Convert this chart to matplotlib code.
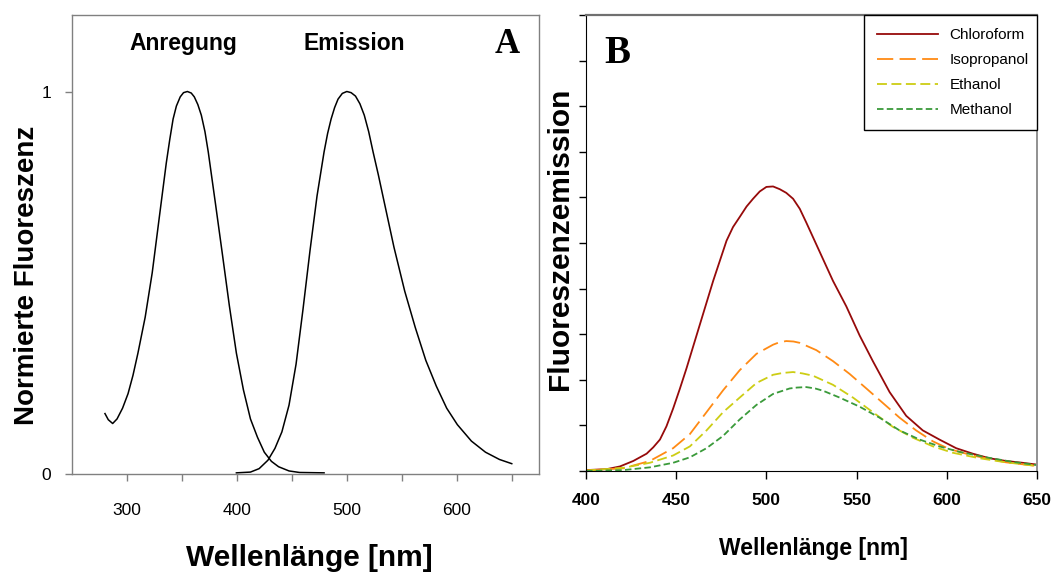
import matplotlib
matplotlib.use("Agg")
import matplotlib.pyplot as plt
from matplotlib import font_manager as fm

# ---------------- data ----------------
# Panel A: normalised excitation / emission spectra
exc_nm = [280, 283, 287, 291, 296, 301, 305.5, 310, 316.6, 323, 329.4, 335.8, 339, 342,
          345, 348.5, 351.5, 355, 358.5, 361.3, 364.5, 367.7, 371, 374, 377, 380.5, 386.9,
          393.2, 399.6, 406, 412.4, 418.8, 425, 431.5, 438, 447.5, 457, 479.4]
exc_val = [0.158, 0.142, 0.132, 0.144, 0.172, 0.21, 0.258, 0.316, 0.41, 0.526, 0.67, 0.813,
           0.875, 0.928, 0.962, 0.986, 0.997, 1.0, 0.996, 0.986, 0.966, 0.938, 0.895, 0.842,
           0.78, 0.708, 0.574, 0.44, 0.316, 0.22, 0.144, 0.096, 0.057, 0.033, 0.019, 0.008,
           0.004, 0.003]
em_nm = [399.6, 412.4, 420.3, 428.3, 434.7, 441, 447.5, 453.9, 460.2, 466.6, 473, 479.4,
         482.6, 485.8, 489, 492.1, 496, 500.1, 504, 508, 512, 516, 520, 524, 528.8, 533.6,
         543, 552.8, 562.4, 572, 581.5, 591, 600.7, 613.5, 626.3, 639, 650.2]
em_val = [0.003, 0.005, 0.014, 0.036, 0.067, 0.11, 0.18, 0.287, 0.43, 0.584, 0.727, 0.842,
          0.89, 0.928, 0.958, 0.98, 0.995, 1.0, 0.997, 0.988, 0.968, 0.938, 0.895, 0.842,
          0.782, 0.718, 0.593, 0.478, 0.383, 0.297, 0.23, 0.172, 0.129, 0.086, 0.057,
          0.038, 0.027]
a_xticks = [300, 400, 500, 600]
a_yticks = [0, 1]
a_labels = ["Anregung", "Emission"]

# Panel B: emission in different solvents
chl_nm = [400, 411.4, 418.8, 426.2, 433.6, 437.3, 441, 444.6, 448.3, 452, 455.7, 463.1,
          470.5, 477.9, 481.5, 485.2, 489, 492.6, 496.3, 500, 503.7, 507.4, 511, 514.8,
          518.5, 522.1, 529.5, 536.9, 544.3, 551.7, 559, 568.3, 577.5, 586.7, 595.9, 605.2,
          614.4, 623.6, 632.8, 642, 650]
chl_val = [0.02, 0.04, 0.1, 0.22, 0.38, 0.52, 0.69, 0.98, 1.37, 1.8, 2.25, 3.21, 4.17,
           5.05, 5.35, 5.57, 5.8, 5.97, 6.13, 6.23, 6.24, 6.18, 6.1, 5.97, 5.75, 5.45, 4.81,
           4.17, 3.61, 2.97, 2.41, 1.73, 1.21, 0.89, 0.69, 0.5, 0.38, 0.28, 0.22, 0.18,
           0.14]
iso_nm = [400, 420.7, 435.4, 448.3, 457.6, 466.8, 476, 485.2, 494.5, 503.7, 507, 511, 515,
          518.5, 527.7, 536.9, 546.1, 555.4, 564.6, 573.8, 583, 592.3, 601.5, 614.4, 632.8,
          650]
iso_val = [0.01, 0.06, 0.22, 0.5, 0.81, 1.29, 1.77, 2.21, 2.57, 2.77, 2.82, 2.85, 2.84,
           2.81, 2.65, 2.41, 2.13, 1.81, 1.49, 1.17, 0.89, 0.65, 0.48, 0.34, 0.19, 0.11]
eth_nm = [400, 420.7, 435.4, 448.3, 457.6, 466.8, 476, 485.2, 494.5, 503.7, 509, 514.8,
          520, 525.8, 536.9, 548, 559, 570, 581.2, 592.3, 603.3, 618, 632.8, 650]
eth_val = [0.01, 0.07, 0.18, 0.34, 0.54, 0.89, 1.29, 1.61, 1.93, 2.11, 2.15, 2.17, 2.14,
           2.09, 1.89, 1.61, 1.29, 0.97, 0.73, 0.54, 0.40, 0.28, 0.19, 0.11]
met_nm = [400, 420.7, 435.4, 448.3, 457.6, 466.8, 476, 485.2, 494.5, 503.7, 512.9, 517,
          522.1, 527, 531.4, 540.6, 551.7, 562.7, 573.8, 584.9, 595.9, 607, 621.8, 636.5,
          650]
met_val = [0.0, 0.02, 0.08, 0.18, 0.30, 0.50, 0.77, 1.13, 1.45, 1.69, 1.81, 1.83, 1.84,
           1.81, 1.76, 1.61, 1.41, 1.17, 0.89, 0.69, 0.54, 0.42, 0.30, 0.20, 0.13]
solvents = ["Chloroform", "Isopropanol", "Ethanol", "Methanol"]
b_xticks = [400, 450, 500, 550, 600, 650]
b_yticks = list(range(0, 11))

# ---------------- fonts ----------------
names = {f.name for f in fm.fontManager.ttflist}
SANS = "Liberation Sans" if "Liberation Sans" in names else "DejaVu Sans"
SERIF = "Liberation Serif" if "Liberation Serif" in names else "DejaVu Serif"
plt.rcParams["font.family"] = [SANS, "DejaVu Sans"]

W, H = 1051, 572
fig = plt.figure(figsize=(W / 100, H / 100), dpi=100)

def frac(x0, y0, x1, y1):
    return [x0 / W, 1 - y1 / H, (x1 - x0) / W, (y1 - y0) / H]

# ---------------- panel A ----------------
axA = fig.add_axes(frac(72, 15, 539, 474))
axA.plot(exc_nm, exc_val, color="black", lw=1.1)
axA.plot(em_nm, em_val, color="black", lw=1.1)
axA.set_xlim(250, 675)
axA.set_ylim(0, 1.2)
axA.set_xticks(a_xticks)
axA.set_xticks([350, 450, 550, 650], minor=True)
axA.set_yticks(a_yticks)
axA.set_yticklabels([str(v) for v in a_yticks])
for s in axA.spines.values():
    s.set_color("#808080")
    s.set_linewidth(1.0)
axA.tick_params(axis="x", which="both", direction="out", length=5, width=1,
                color="#808080", labelsize=12.5, pad=16)
axA.tick_params(axis="y", direction="out", length=5, width=1, color="#808080",
                labelsize=12.5, pad=10)
axA.text(351, 1.125, a_labels[0], ha="center", va="center", fontsize=16.5,
         fontweight="bold")
axA.text(507, 1.125, a_labels[1], ha="center", va="center", fontsize=16.5,
         fontweight="bold")
axA.text(0.931, 0.935, "A", transform=axA.transAxes, ha="center", va="center",
         fontsize=25, fontweight="bold", family=SERIF)
fig.text(309 / W, 1 - 558 / H, "Wellenlänge [nm]", ha="center", va="center",
         fontsize=21.5, fontweight="bold")
fig.text(27 / W, 1 - 275 / H, "Normierte Fluoreszenz", ha="center", va="center",
         rotation=90, fontsize=20, fontweight="bold")

# ---------------- panel B ----------------
axB = fig.add_axes(frac(586, 15, 1037, 471))
colors = ["#960A0A", "#FF8A14", "#CDCD14", "#3A9A3A"]
l1, = axB.plot(chl_nm, chl_val, color=colors[0], lw=1.3, label=solvents[0])
l2, = axB.plot(iso_nm, iso_val, color=colors[1], lw=1.3, dashes=(9, 3.5),
               label=solvents[1])
l3, = axB.plot(eth_nm, eth_val, color=colors[2], lw=1.3, dashes=(5.5, 2.5),
               label=solvents[2])
l4, = axB.plot(met_nm, met_val, color=colors[3], lw=1.3, dashes=(3.6, 1.8),
               label=solvents[3])
axB.set_xlim(400, 650)
axB.set_ylim(0, 10)
axB.set_xticks(b_xticks)
axB.set_yticks(b_yticks)
axB.set_yticklabels([])
axB.set_xticklabels([str(v) for v in b_xticks], fontweight="bold", fontsize=12.5)
axB.spines["left"].set_color("black")
axB.spines["bottom"].set_color("black")
axB.spines["top"].set_color("#707070")
axB.spines["right"].set_color("#909090")
axB.spines["top"].set_linewidth(1.6)
axB.spines["right"].set_linewidth(1.4)
axB.tick_params(axis="x", direction="out", length=6, width=1, pad=10)
axB.tick_params(axis="y", direction="out", length=5, width=1)
leg = axB.legend(handles=[l1, l2, l3, l4], loc="upper left",
                 bbox_to_anchor=(0.616, 0.0, 0.384, 1.0), mode="expand",
                 borderaxespad=0, fancybox=False, framealpha=1, edgecolor="black",
                 handlelength=4.0, handletextpad=0.75, borderpad=0.85,
                 labelspacing=0.72,
                 prop=fm.FontProperties(family=SANS, size=11))
leg.get_frame().set_linewidth(1.0)
axB.text(0.07, 0.915, "B", transform=axB.transAxes, ha="center", va="center",
         fontsize=28, fontweight="bold", family=SERIF)
fig.text(813 / W, 1 - 549 / H, "Wellenlänge [nm]", ha="center", va="center",
         fontsize=16.5, fontweight="bold")
fig.text(560 / W, 1 - 239 / H, "Fluoreszenzemission", ha="center", va="center",
         rotation=90, fontsize=21.5, fontweight="bold")

fig.savefig("out.png", dpi=100)
